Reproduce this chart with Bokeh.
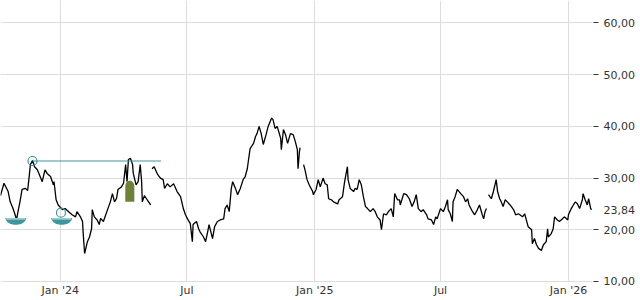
import numpy as np
import pandas as pd
from bokeh.plotting import figure
from bokeh.models import Range1d, FixedTicker, CustomJSTickFormatter, LinearAxis
from bokeh.embed import file_html
from bokeh.resources import INLINE

# ---------------- data ----------------
dates = [
    "2023-10-07", "2023-10-12", "2023-10-18", "2023-10-21", "2023-10-25", "2023-10-28", "2023-10-30",
    "2023-11-02", "2023-11-04", "2023-11-07", "2023-11-12", "2023-11-15", "2023-11-17", "2023-11-19",
    "2023-11-22", "2023-11-25", "2023-11-29", "2023-12-03", "2023-12-06", "2023-12-10", "2023-12-13",
    "2023-12-18", "2023-12-22", "2023-12-23", "2023-12-26", "2023-12-29", "2024-01-04", "2024-01-08",
    "2024-01-13", "2024-01-18", "2024-01-23", "2024-01-25", "2024-01-30", "2024-02-02", "2024-02-03",
    "2024-02-05", "2024-02-09", "2024-02-12", "2024-02-15", "2024-02-16", "2024-02-19", "2024-02-23",
    "2024-02-26", "2024-02-28", "2024-03-03", "2024-03-09", "2024-03-13", "2024-03-16", "2024-03-19",
    "2024-03-22", "2024-03-24", "2024-03-29", "2024-04-01", "2024-04-04", "2024-04-06", "2024-04-08",
    "2024-04-11", "2024-04-14", "2024-04-15", "2024-04-19", "2024-04-22", "2024-04-25", "2024-04-27",
    "2024-04-28", "2024-05-01", "2024-05-04", "2024-05-07", "2024-05-10", "2024-05-11", "2024-05-12",
    "2024-05-15", "2024-05-20", "2024-05-24", "2024-05-28", "2024-05-30", "2024-06-03", "2024-06-07",
    "2024-06-12", "2024-06-17", "2024-06-22", "2024-06-26", "2024-06-29", "2024-07-02", "2024-07-06",
    "2024-07-09", "2024-07-10", "2024-07-15", "2024-07-18", "2024-07-20", "2024-07-25", "2024-07-28",
    "2024-07-31", "2024-08-02", "2024-08-07", "2024-08-10", "2024-08-14", "2024-08-18", "2024-08-23",
    "2024-08-25", "2024-08-28", "2024-08-31", "2024-09-03", "2024-09-05", "2024-09-09", "2024-09-12",
    "2024-09-16", "2024-09-20", "2024-09-23", "2024-09-26", "2024-09-30", "2024-10-05", "2024-10-08",
    "2024-10-10", "2024-10-13", "2024-10-16", "2024-10-19", "2024-10-23", "2024-10-26", "2024-10-31",
    "2024-11-02", "2024-11-05", "2024-11-08", "2024-11-13", "2024-11-14", "2024-11-17", "2024-11-20",
    "2024-11-23", "2024-11-27", "2024-12-01", "2024-12-04", "2024-12-07", "2024-12-08", "2024-12-10",
    "2024-12-11", "2024-12-12", "2024-12-16", "2024-12-18", "2024-12-21", "2024-12-24", "2024-12-29",
    "2024-12-30", "2025-01-03", "2025-01-06", "2025-01-09", "2025-01-13", "2025-01-16", "2025-01-19",
    "2025-01-21", "2025-01-25", "2025-01-28", "2025-02-03", "2025-02-05", "2025-02-10", "2025-02-13",
    "2025-02-17", "2025-02-18", "2025-02-21", "2025-02-26", "2025-02-28", "2025-03-03", "2025-03-06",
    "2025-03-09", "2025-03-12", "2025-03-15", "2025-03-18", "2025-03-22", "2025-03-26", "2025-03-29",
    "2025-04-01", "2025-04-05", "2025-04-07", "2025-04-10", "2025-04-14", "2025-04-17", "2025-04-21",
    "2025-04-24", "2025-04-26", "2025-04-30", "2025-05-03", "2025-05-04", "2025-05-09", "2025-05-13",
    "2025-05-17", "2025-05-21", "2025-05-24", "2025-05-27", "2025-05-30", "2025-06-03", "2025-06-06",
    "2025-06-11", "2025-06-13", "2025-06-18", "2025-06-21", "2025-06-24", "2025-06-26", "2025-07-01",
    "2025-07-05", "2025-07-08", "2025-07-11", "2025-07-12", "2025-07-15", "2025-07-18", "2025-07-19",
    "2025-07-22", "2025-07-25", "2025-07-30", "2025-08-03", "2025-08-06", "2025-08-09", "2025-08-11",
    "2025-08-16", "2025-08-19", "2025-08-23", "2025-08-26", "2025-08-30", "2025-09-01", "2025-09-03",
    "2025-09-05", "2025-09-06", "2025-09-08", "2025-09-12", "2025-09-15", "2025-09-19", "2025-09-21",
    "2025-09-24", "2025-09-25", "2025-09-29", "2025-10-02", "2025-10-05", "2025-10-09", "2025-10-14",
    "2025-10-17", "2025-10-21", "2025-10-27", "2025-10-30", "2025-11-01", "2025-11-04", "2025-11-09",
    "2025-11-10", "2025-11-13", "2025-11-16", "2025-11-19", "2025-11-23", "2025-11-26", "2025-11-30",
    "2025-12-02", "2025-12-03", "2025-12-07", "2025-12-10", "2025-12-12", "2025-12-16", "2025-12-19",
    "2025-12-23", "2025-12-26", "2025-12-31", "2026-01-01", "2026-01-05", "2026-01-08", "2026-01-11",
    "2026-01-14", "2026-01-17", "2026-01-21", "2026-01-22", "2026-01-25", "2026-01-28", "2026-01-30",
    "2026-02-02", "2026-02-03",
]
nan = float("nan")
prices = [
    26.6, 29.0, 27.4, 25.4, 24.1, 22.9, 21.9,
    24.1, 25.4, 27.8, 28.0, 27.6, 30.0, 32.6,
    33.4, 32.2, 31.6, 30.3, 29.3, 31.6, 30.9,
    30.3, 28.7, 29.3, 25.8, 24.8, 23.9, 24.1,
    23.5, 22.9, 22.5, 23.5, 22.5, 21.6, 19.2,
    15.4, 17.7, 18.6, 20.2, 23.9, 22.5, 21.9,
    21.0, 22.2, 21.6, 23.9, 25.4, 27.0, 25.4,
    26.1, 27.8, 28.3, 29.0, 32.6, 29.3, 33.6,
    33.8, 32.6, 30.9, 28.7, 29.3, 32.6, 29.3,
    25.4, 26.6, 26.0, 25.4, 24.8, nan, 31.8,
    32.2, 30.7, 30.0, 29.7, 28.0, 28.9, 28.3,
    28.9, 27.4, 26.4, 24.1, 22.9, 22.1, 21.2,
    17.7, 21.0, 21.6, 20.2, 19.6, 18.6, 17.7,
    19.6, 21.0, 18.3, 20.6, 21.6, 21.9, 22.1,
    24.1, 24.8, 23.5, 28.0, 29.3, 28.0, 26.8,
    28.0, 29.7, 30.3, 31.8, 35.7, 36.7, 38.1,
    38.6, 40.0, 38.6, 36.5, 38.4, 40.0, 41.6,
    41.3, 39.6, 40.0, 37.7, 35.5, 39.4, 38.4,
    36.7, 38.6, 38.4, 37.1, 35.5, 31.8, 35.1,
    35.9, nan, 32.6, 31.6, 29.7, 28.7, 27.4,
    26.8, 27.8, 29.7, 28.3, 30.0, 28.9, 28.7,
    26.0, 25.8, 25.4, 25.0, 25.8, 26.4, 29.3,
    32.2, 29.7, 28.0, 27.4, 28.0, 27.8, 29.7,
    28.7, 26.4, 24.5, 24.1, 23.5, 24.1, 23.5,
    22.5, 21.9, 20.0, 23.1, 22.9, 23.5, 24.1,
    22.5, 27.0, 25.8, 25.8, 24.8, 27.0, 26.8,
    26.0, 24.5, 25.4, 26.8, 24.1, 23.5, 23.9,
    22.9, 22.1, 21.9, 21.0, 22.5, 22.1, 24.1,
    23.5, 24.5, 25.8, 23.9, 23.1, 21.6, 25.4,
    26.4, 27.8, 27.0, 26.4, 25.4, 26.0, 24.8,
    23.5, 22.9, 23.9, 24.8, 22.9, 22.1, 23.5,
    24.1, nan, 26.8, 26.0, 27.4, 29.7, 27.4,
    26.0, 25.8, 24.5, 25.8, 25.4, 24.8, 23.9,
    22.9, 23.1, 22.5, 23.1, 22.1, 20.6, 20.0,
    17.3, 18.3, 17.1, 16.4, 16.0, 17.1, 17.7,
    20.2, 18.6, 19.2, 20.2, 22.5, 21.9, 21.6,
    22.1, 22.5, 21.9, 22.9, 24.1, 24.8, 25.4,
    25.0, 24.1, 25.8, 27.0, 25.8, 24.8, 26.0,
    24.1, 23.84,
]

last_value = 23.84

trend_dates = ["2023-11-22", "2024-05-25"]
trend_level = 33.3
ring_dates = ["2023-11-22", "2024-01-02"]
ring_values = [33.3, 23.3]
bowl_dates = ["2023-10-29", "2024-01-03"]
bowl_top = 22.3
bowl_bottom = 20.95
flag_date = "2024-04-10"
flag_bottom = 25.4
flag_shoulder = 28.4
flag_top = 29.5

y_ticks = [10, 20, 30, 40, 50, 60]
x_tick_dates = ["2024-01-01", "2024-07-01", "2025-01-01", "2025-07-01", "2026-01-01"]
x_tick_labels = ["Jan '24", "Jul", "Jan '25", "Jul", "Jan '26"]

# ---------------- helpers ----------------
def ms(d):
    return pd.Timestamp(d).value / 1e6

DAY = 86400000.0
FONT = "DejaVu Sans"
TEAL = "#3f96a0"
TEAL_LIGHT = "#98cccf"
OLIVE = "#6d8238"
GRID = "#dddddd"
TEXT = "#333333"

x_ms = np.array([ms(d) for d in dates])
y_vals = np.array(prices, dtype=float)

x_start = x_ms[0]
x_end = x_ms[-1] + 3 * DAY

p = figure(
    x_axis_type="datetime",
    frame_width=593, frame_height=282,
    x_range=Range1d(x_start, x_end),
    y_range=Range1d(9.8, 64.35),
    y_axis_location=None,
    output_backend="svg", toolbar_location=None,
    min_border=0, min_border_right=4,
    outline_line_color=None,
    background_fill_color="white", border_fill_color="white",
)

tick_ms = [ms(d) for d in x_tick_dates]

# grids
p.xgrid.ticker = FixedTicker(ticks=tick_ms)
p.xgrid.grid_line_color = GRID
p.ygrid.grid_line_color = GRID

# x axis
xa = p.xaxis[0]
xa.ticker = FixedTicker(ticks=tick_ms)
xa.major_label_overrides = {t: lab for t, lab in zip(tick_ms, x_tick_labels)}
xa.axis_line_color = None
xa.major_tick_out = 0
xa.major_tick_in = 0
xa.minor_tick_line_color = None
xa.major_label_standoff = 1
xa.major_label_text_font = FONT
xa.major_label_text_font_size = "11px"
xa.major_label_text_color = TEXT

# right axis: labels on the major ticks (incl. last price), dashes drawn as minor ticks
ya = LinearAxis(ticker=FixedTicker(ticks=y_ticks + [last_value], minor_ticks=y_ticks))
ya.formatter = CustomJSTickFormatter(code="return tick.toFixed(2).replace('.', ',');")
ya.axis_line_color = None
ya.major_tick_out = 5
ya.major_tick_in = 0
ya.major_tick_line_color = None
ya.minor_tick_out = 5
ya.minor_tick_in = 0
ya.minor_tick_line_color = TEXT
ya.minor_tick_line_width = 1
ya.major_label_standoff = 5
ya.major_label_text_font = FONT
ya.major_label_text_font_size = "11px"
ya.major_label_text_color = TEXT
p.add_layout(ya, "right")

p.ygrid.ticker = FixedTicker(ticks=y_ticks)

# price line
p.line(x_ms, y_vals, line_color="black", line_width=1.3)

# trend line
p.line([ms(d) for d in trend_dates], [trend_level, trend_level], line_color=TEAL, line_width=1)

# bowls
half_w = 15.0 * DAY
t = np.linspace(0, np.pi, 25)
bxs, bys = [], []
for d in bowl_dates:
    c = ms(d)
    bxs.append(list(c + half_w * np.cos(t)))
    bys.append(list(bowl_top - (bowl_top - bowl_bottom) * np.sin(t)))
p.patches(bxs, bys, fill_color=TEAL, line_color=None)
band = 0.38
p.quad(left=[ms(d) - half_w * 0.93 for d in bowl_dates],
       right=[ms(d) + half_w * 0.93 for d in bowl_dates],
       top=[bowl_top] * len(bowl_dates), bottom=[bowl_top - band] * len(bowl_dates),
       fill_color=TEAL_LIGHT, line_color=None)

# olive flag shape
fc = ms(flag_date)
fw = 6.5 * DAY
tt = np.linspace(0, np.pi, 20)
fx = [fc - fw, fc - fw] + list(fc - fw * np.cos(tt)) + [fc + fw, fc + fw]
fy = [flag_bottom, flag_shoulder] + list(flag_shoulder + (flag_top - flag_shoulder) * np.sin(tt)) + [flag_shoulder, flag_bottom]
p.patch(fx, fy, fill_color=OLIVE, line_color=None)

# rings
p.scatter([ms(d) for d in ring_dates], ring_values, size=9, marker="circle",
          fill_color=None, line_color=TEAL, line_width=1.2)

open("out.html", "w").write(file_html(p, INLINE))
